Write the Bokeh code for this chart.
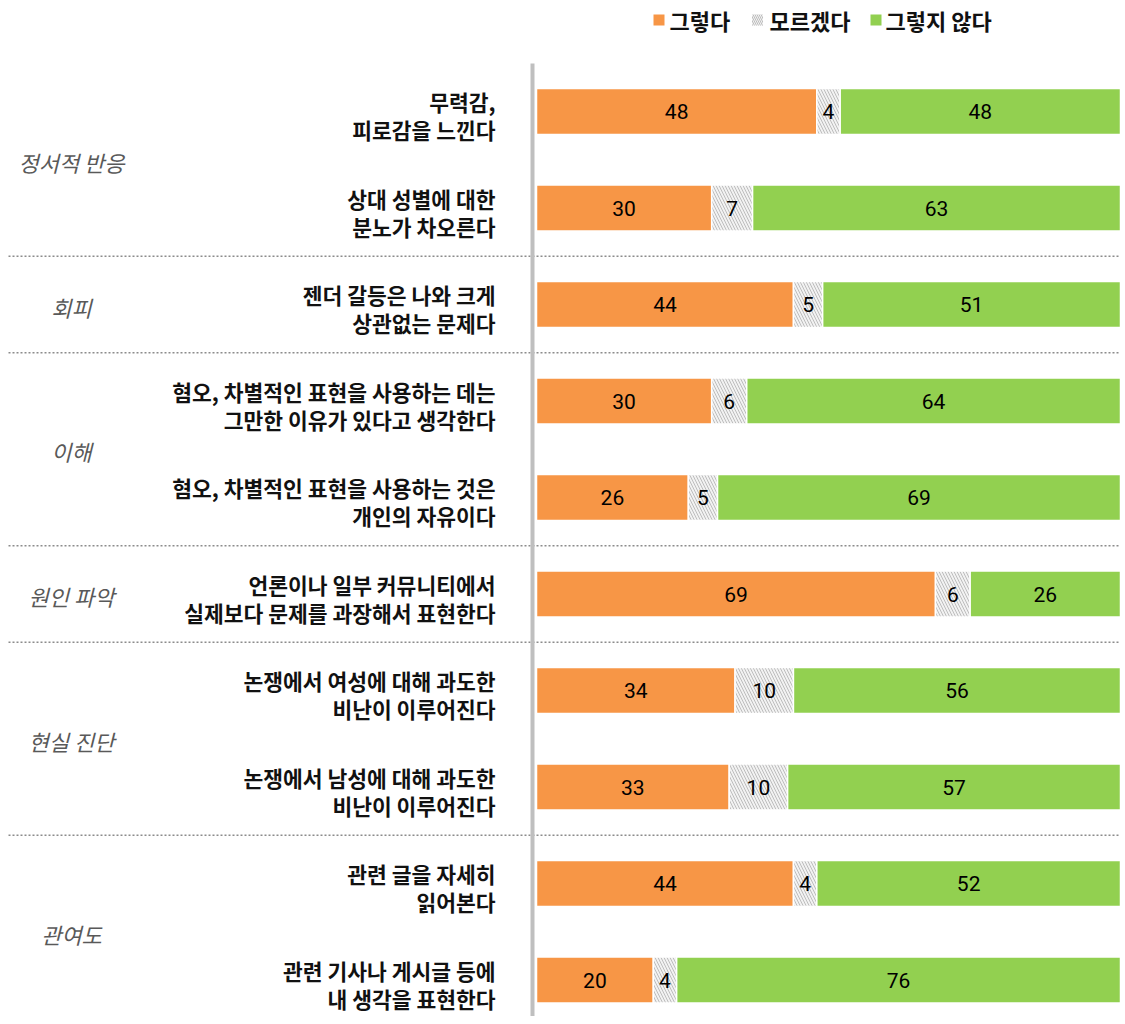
from bokeh.plotting import figure
from bokeh.models import Range1d, ColumnDataSource
from bokeh.core.properties import value
from bokeh.embed import file_html
from bokeh.resources import INLINE

# ---------------- data ----------------
line1 = ["무력감,", "상대 성별에 대한", "젠더 갈등은 나와 크게",
         "혐오, 차별적인 표현을 사용하는 데는", "혐오, 차별적인 표현을 사용하는 것은",
         "언론이나 일부 커뮤니티에서", "논쟁에서 여성에 대해 과도한",
         "논쟁에서 남성에 대해 과도한", "관련 글을 자세히", "관련 기사나 게시글 등에"]
line2 = ["피로감을 느낀다", "분노가 차오른다", "상관없는 문제다",
         "그만한 이유가 있다고 생각한다", "개인의 자유이다",
         "실제보다 문제를 과장해서 표현한다", "비난이 이루어진다",
         "비난이 이루어진다", "읽어본다", "내 생각을 표현한다"]
yes_vals = [48, 30, 44, 30, 26, 69, 34, 33, 44, 20]
dk_vals = [4, 7, 5, 6, 5, 6, 10, 10, 4, 4]
no_vals = [48, 63, 51, 64, 69, 26, 56, 57, 52, 76]
series_names = ["그렇다", "모르겠다", "그렇지 않다"]
groups = ["정서적 반응", "회피", "이해", "원인 파악", "현실 진단", "관여도"]
group_rows = [(0, 1), (2, 2), (3, 4), (5, 5), (6, 7), (8, 9)]

# ---------------- geometry (screen px -> data) ----------------
W, H = 1120, 1016
X0_IMG, PX_PER_UNIT = 536.0, 5.84
Y0_IMG, ROW_PX = 111.0, 96.5

def ux(img_x):
    return (img_x - X0_IMG) / PX_PER_UNIT

def uy(img_y):
    return (img_y - Y0_IMG) / ROW_PX

p = figure(width=W, height=H, output_backend="svg", toolbar_location=None,
           x_range=Range1d(ux(0), ux(W)), y_range=Range1d(uy(H), uy(0)),
           min_border=0, outline_line_color=None)
p.axis.visible = False
p.grid.visible = False
p.background_fill_color = "white"
p.border_fill_color = "white"

ORANGE = "#F79646"
GREEN = "#92D050"
HATCH_BG = "#F2F2F2"
HATCH_FG = "#BDBDBD"

n = len(yes_vals)
rows = list(range(n))
tot = [yes_vals[i] + dk_vals[i] + no_vals[i] for i in rows]
y_pct = [100.0 * yes_vals[i] / tot[i] for i in rows]
d_pct = [100.0 * dk_vals[i] / tot[i] for i in rows]
n_pct = [100.0 * no_vals[i] / tot[i] for i in rows]

a0 = [0.0] * n
a1 = y_pct
b1 = [y_pct[i] + d_pct[i] for i in rows]
c1 = [b1[i] + n_pct[i] for i in rows]

BAR_H = 46.0 / ROW_PX

src = ColumnDataSource(dict(row=rows, a0=a0, a1=a1, b1=b1, c1=c1,
                            yl=[str(v) for v in yes_vals], dl=[str(v) for v in dk_vals],
                            nl=[str(v) for v in no_vals],
                            ym=[(a0[i] + a1[i]) / 2 for i in rows],
                            dm=[(a1[i] + b1[i]) / 2 for i in rows],
                            nm=[(b1[i] + c1[i]) / 2 for i in rows],
                            l1=line1, l2=line2))

# separators (dotted)
for b in [1.5, 2.5, 4.5, 5.5, 7.5]:
    p.line([ux(8), ux(1120)], [b, b], line_color="#8C8C8C", line_width=1.5, line_dash="2 2")

# axis line
p.segment(x0=[ux(532)], y0=[uy(63)], x1=[ux(532)], y1=[uy(1030)],
          line_color="#BFBFBF", line_width=4)

p.hbar(y="row", left="a0", right="a1", height=BAR_H, source=src,
       fill_color=ORANGE, line_color="white", line_width=1.5)
p.hbar(y="row", left="a1", right="b1", height=BAR_H, source=src,
       fill_color=HATCH_BG, line_color="white", line_width=1.5,
       hatch_pattern="\\", hatch_color=HATCH_FG, hatch_scale=6, hatch_weight=1)
p.hbar(y="row", left="b1", right="c1", height=BAR_H, source=src,
       fill_color=GREEN, line_color="white", line_width=1.5)

VF = value("Roboto")
for col, mid in [("yl", "ym"), ("dl", "dm"), ("nl", "nm")]:
    p.text(x=mid, y="row", text=col, source=src, text_font=VF,
           text_font_size="21px", text_color="#000000",
           text_align="center", text_baseline="middle")

LF = value("Noto Sans CJK KR")
p.text(x=ux(495), y="row", text="l1", source=src, text_font=LF, text_font_size="21.5px",
       text_font_style="bold", text_color="#111111", text_align="right",
       text_baseline="middle", y_offset=-10)
p.text(x=ux(495), y="row", text="l2", source=src, text_font=LF, text_font_size="21.5px",
       text_font_style="bold", text_color="#111111", text_align="right",
       text_baseline="middle", y_offset=18)

gy = [(a + b) / 2 for a, b in group_rows]
p.text(x=[ux(71)] * len(groups), y=gy, text=groups, text_font=LF, text_font_size="22px",
       text_font_style="italic", text_color="#595959", text_align="center",
       text_baseline="middle", y_offset=2)

# legend
LEG_Y = uy(19.5)
sq = 11
sw = sq / PX_PER_UNIT
sh = sq / ROW_PX
p.rect(x=[ux(658.5)], y=[LEG_Y], width=sw, height=sh, fill_color=ORANGE, line_color=None)
p.rect(x=[ux(757)], y=[LEG_Y], width=sw, height=sh, fill_color=HATCH_BG, line_color=None,
       hatch_pattern="\\", hatch_color=HATCH_FG, hatch_scale=4, hatch_weight=1)
p.rect(x=[ux(875.5)], y=[LEG_Y], width=sw, height=sh, fill_color=GREEN, line_color=None)
p.text(x=[ux(669), ux(769), ux(885)], y=[LEG_Y] * 3, text=series_names, text_font=LF,
       text_font_size="22px", text_font_style="bold", text_color="#111111",
       text_align="left", text_baseline="middle")

open("out.html", "w").write(file_html(p, INLINE))
